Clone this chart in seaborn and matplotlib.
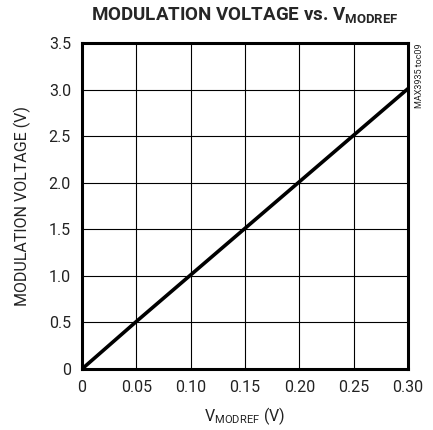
import matplotlib
matplotlib.use("Agg")
import matplotlib.pyplot as plt
import seaborn as sns
import pandas as pd

# data
vmodref = [0.0, 0.05, 0.10, 0.15, 0.20, 0.25, 0.30]
vmod = [0.0, 0.51, 1.01, 1.51, 2.01, 2.51, 3.01]
xticks = [0, 0.05, 0.10, 0.15, 0.20, 0.25, 0.30]
xticklabels = ["0", "0.05", "0.10", "0.15", "0.20", "0.25", "0.30"]
yticks = [0, 0.5, 1.0, 1.5, 2.0, 2.5, 3.0, 3.5]
yticklabels = ["0", "0.5", "1.0", "1.5", "2.0", "2.5", "3.0", "3.5"]

sns.set_style("white")
fam = ["Roboto", "DejaVu Sans"]
plt.rcParams["font.family"] = fam
plt.rcParams["mathtext.fontset"] = "custom"
plt.rcParams["mathtext.rm"] = "Roboto"
plt.rcParams["mathtext.bf"] = "Roboto:bold"

df = pd.DataFrame({"x": vmodref, "y": vmod})

fig = plt.figure(figsize=(4.33, 4.30), dpi=100)
ax = fig.add_axes([82 / 433, 1 - 369 / 430, 326 / 433, 326 / 430])

sns.lineplot(data=df, x="x", y="y", ax=ax, color="black", linewidth=2.6)

ax.set_xlim(0, 0.30)
ax.set_ylim(0, 3.5)
ax.set_xticks(xticks)
ax.set_xticklabels(xticklabels)
ax.set_yticks(yticks)
ax.set_yticklabels(yticklabels)
ax.tick_params(axis="both", length=0, labelsize=11.5, pad=8, colors="#222222")
ax.grid(True, color="black", linewidth=0.8)
for s in ax.spines.values():
    s.set_color("black")
    s.set_linewidth(2.2)

ax.set_xlabel(r"V$_{\mathrm{MODREF}}$ (V)", fontsize=11.5, color="#222222", labelpad=7)
ax.set_ylabel("MODULATION VOLTAGE (V)", fontsize=11.5, color="#222222", labelpad=13)

fig.text(245 / 433, 1 - 16 / 430, r"MODULATION VOLTAGE vs. V$_{\mathbf{MODREF}}$",
         ha="center", va="center", fontsize=13.5, fontweight="bold")
fig.text(419 / 433, 1 - 76 / 430, "MAX3935 toc09", rotation=90,
         ha="center", va="center", fontsize=6.5)

fig.savefig("out.png", dpi=100)
